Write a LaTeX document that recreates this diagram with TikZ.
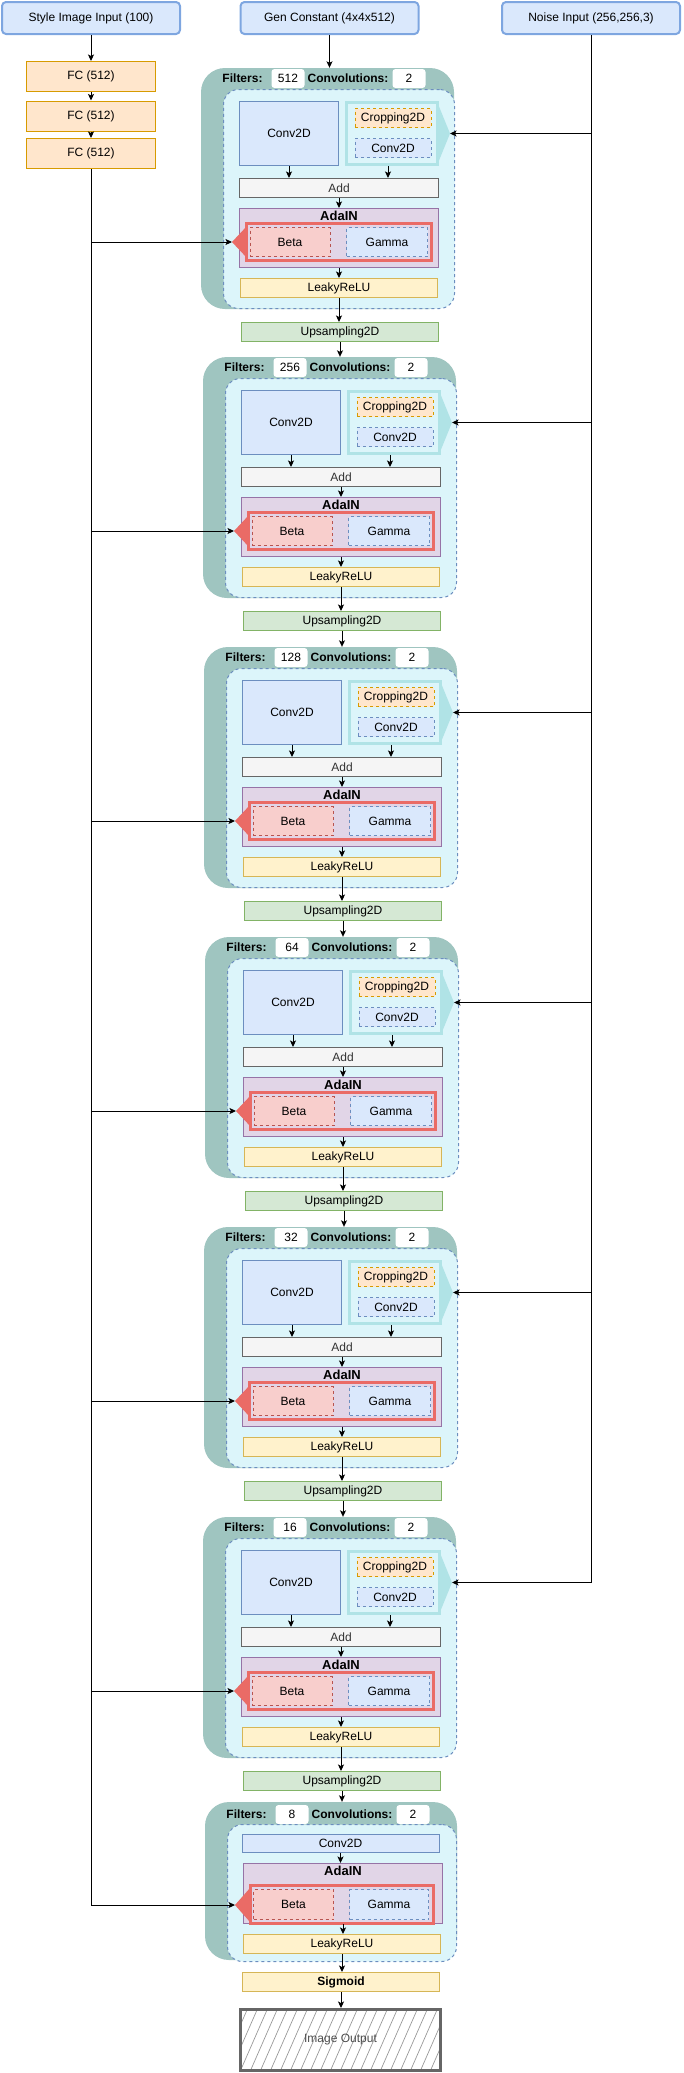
\documentclass[tikz,border=0pt]{standalone}
\usepackage{fontspec}
\setmainfont{Liberation Sans}
\usetikzlibrary{arrows.meta,positioning}
\definecolor{inblue}{HTML}{DAE8FC}
\definecolor{inbluedraw}{HTML}{7EA6E0}
\definecolor{bluedraw}{HTML}{6C8EBF}
\definecolor{fcfill}{HTML}{FFE6CC}
\definecolor{fcdraw}{HTML}{D79B00}
\definecolor{blkteal}{HTML}{9FC5C0}
\definecolor{blkin}{HTML}{DCF5FA}
\definecolor{cropedge}{HTML}{B0E3E6}
\definecolor{addfill}{HTML}{F5F5F5}
\definecolor{adafill}{HTML}{E1D5E7}
\definecolor{adadraw}{HTML}{9673A6}
\definecolor{redgrp}{HTML}{EA6B66}
\definecolor{betafill}{HTML}{F8CECC}
\definecolor{betadraw}{HTML}{B85450}
\definecolor{relufill}{HTML}{FFF2CC}
\definecolor{reludraw}{HTML}{D6B656}
\definecolor{upfill}{HTML}{D5E8D4}
\definecolor{updraw}{HTML}{82B366}
\tikzset{every node/.style={font=\fontsize{12}{14}\selectfont, inner sep=0pt},
  dsh/.style={dash pattern=on 3pt off 3pt},
  box/.style={draw, line width=1pt},
  inputbox/.style={box, draw=inbluedraw, fill=inblue, line width=2pt, rounded corners=4pt, minimum width=178pt, minimum height=32pt},
  fcbox/.style={box, draw=fcdraw, fill=fcfill, minimum width=129pt, minimum height=30pt},
  convbox/.style={box, draw=bluedraw, fill=inblue},
  cropbox/.style={box, dsh, draw=fcdraw, fill=fcfill, minimum width=76pt, minimum height=19pt},
  addbox/.style={box, draw=black!60, fill=addfill, text=black!80, minimum width=199pt, minimum height=19pt},
  adabox/.style={box, draw=adadraw, fill=adafill},
  redbox/.style={draw=redgrp, line width=3pt},
  betabox/.style={box, dsh, draw=betadraw, fill=betafill},
  gammabox/.style={box, dsh, draw=bluedraw, fill=inblue},
  relubox/.style={box, draw=reludraw, fill=relufill, minimum height=19pt},
  upbox/.style={box, draw=updraw, fill=upfill, minimum width=197pt, minimum height=19pt},
  outerblk/.style={fill=blkteal, rounded corners=24pt},
  innerblk/.style={box, dsh, draw=bluedraw, fill=blkin, rounded corners=15pt},
  valbox/.style={fill=white, rounded corners=3pt, minimum width=33pt, minimum height=19pt},
  hd/.style={font=\fontsize{12}{14}\selectfont\bfseries},
  adahd/.style={font=\fontsize{13}{15}\selectfont\bfseries},
  outbox/.style={draw=black!60, line width=3pt, minimum width=200pt, minimum height=61pt, text=black!70,
    path picture={\foreach \k in {-4,...,21} \draw[black!40, line width=0.7pt] ([xshift=\k*10pt]path picture bounding box.south west) -- ++(28,-64);}},
  flow/.style={-{Stealth[length=6.5pt,width=6pt,inset=1.5pt]}, line width=1pt}}

\begin{document}
\begin{tikzpicture}[x=1pt,y=-1pt]
  \useasboundingbox (0,0) rectangle (683,2073);
  % inputs and mapping net
  \node[inputbox] (style) at (91,18) {Style Image Input (100)};
  \node[inputbox] (gen) at (329.5,18) {Gen Constant (4x4x512)};
  \node[inputbox] (noise) at (591,18) {Noise Input (256,256,3)};
  \node[fcbox] (fc1) at (91,76.5) {FC (512)};
  \node[fcbox] (fc2) at (91,116) {FC (512)};
  \node[fcbox] (fc3) at (91,153.5) {FC (512)};
  \draw[flow] (style) -- (fc1);
  \draw[flow] (fc1) -- (fc2);
  \draw[flow] (fc2) -- (fc3);
  % synthesis blocks
  \foreach \T/\f/\d [count=\i] in {68/512/0,357/256/2,647/128/3,937/64/4,1227/32/3,1517/16/2}{
    \node[outerblk, minimum width=253pt, minimum height=241pt] (blk\i) at (327.5+\d,\T+120.5) {};
    \node[hd] (filt\i) at (242.5+\d,\T+10.5) {Filters:};
    \node[valbox] (fval\i) at (288+\d,\T+10.5) {\f};
    \node[hd] (cnv\i) at (348+\d,\T+10.5) {Convolutions:};
    \node[valbox] (cval\i) at (409+\d,\T+10.5) {2};
    \node[innerblk, minimum width=231pt, minimum height=219pt] (inner\i) at (339+\d,\T+131) {};
    \node[convbox, minimum width=99pt, minimum height=64pt] (conv\i) at (289+\d,\T+65.5) {Conv2D};
    \node[draw=cropedge, line width=3pt, fill=blkin, minimum width=91pt, minimum height=62pt] (grp\i) at (392+\d,\T+65.5) {};
    \fill[cropedge] (438+\d,\T+36) -- (450+\d,\T+65.5) -- (438+\d,\T+95) -- cycle;
    \coordinate (nz\i) at (450+\d,\T+65.5);
    \node[cropbox] (crop\i) at (393+\d,\T+50) {Cropping2D};
    \node[convbox, dsh, minimum width=76pt, minimum height=19pt] (sconv\i) at (393+\d,\T+80) {Conv2D};
    \node[addbox] (add\i) at (339+\d,\T+120) {Add};
    \node[adabox, minimum width=199pt, minimum height=59pt] (ada\i) at (339+\d,\T+170) {};
    \node[adahd, below=3pt of ada\i.north] (adal\i) {AdaIN};
    \node[redbox, minimum width=185pt, minimum height=37pt] (rgrp\i) at (339+\d,\T+174) {};
    \fill[redgrp] (247+\d,\T+158) -- (232+\d,\T+174) -- (247+\d,\T+190) -- cycle;
    \coordinate (st\i) at (232+\d,\T+174);
    \node[betabox, minimum width=80pt, minimum height=29pt] (beta\i) at (290+\d,\T+174) {Beta};
    \node[gammabox, minimum width=81pt, minimum height=29pt] (gam\i) at (387+\d,\T+174) {Gamma};
    \node[relubox, minimum width=197pt] (relu\i) at (339+\d,\T+220) {LeakyReLU};
    \node[upbox] (up\i) at (340+\d,\T+264) {Upsampling2D};
    \draw[flow] (conv\i.south) -- (conv\i.south |- add\i.north);
    \draw[flow] ([xshift=-4pt]grp\i.south) -- ([xshift=-4pt]grp\i.south |- add\i.north);
    \draw[flow] (add\i.south) -- (ada\i.north);
    \draw[flow] (ada\i.south) -- (relu\i.north);
    \draw[flow] (relu\i.south) -- (relu\i.south |- up\i.north);
  }
  % last block
  \node[outerblk, minimum width=252pt, minimum height=158pt] (blk7) at (331,1881) {};
  \node[hd] (filt7) at (246.5,1814.5) {Filters:};
  \node[valbox] (fval7) at (292,1814.5) {8};
  \node[hd] (cnv7) at (352,1814.5) {Convolutions:};
  \node[valbox] (cval7) at (413,1814.5) {2};
  \node[innerblk, minimum width=229pt, minimum height=137pt] (inner7) at (342,1893) {};
  \node[convbox, minimum width=197pt, minimum height=18pt] (conv7) at (340.5,1843) {Conv2D};
  \node[adabox, minimum width=199pt, minimum height=60pt] (ada7) at (343,1893.5) {};
  \node[adahd, below=3pt of ada7.north] (adal7) {AdaIN};
  \node[redbox, minimum width=183pt, minimum height=38pt] (rgrp7) at (342,1904.5) {};
  \fill[redgrp] (250,1888) -- (235,1905) -- (250,1922) -- cycle;
  \coordinate (st7) at (235,1905);
  \node[betabox, minimum width=80pt, minimum height=30pt] (beta7) at (293.5,1904.5) {Beta};
  \node[gammabox, minimum width=79pt, minimum height=30pt] (gam7) at (389,1904.5) {Gamma};
  \node[relubox, minimum width=197pt] (relu7) at (342,1944) {LeakyReLU};
  \node[relubox, hd, minimum width=197pt] (sig) at (341,1982) {Sigmoid};
  \node[outbox] (out) at (340.5,2040) {Image Output};
  \draw[flow] (conv7.south) -- (conv7.south |- ada7.north);
  \draw[flow] (ada7.south) -- (ada7.south |- relu7.north);
  \draw[flow] (relu7.south) -- (relu7.south |- sig.north);
  \draw[flow] (sig.south) -- (sig.south |- out.north);
  % block to block
  \draw[flow] (gen.south) -- (gen.south |- blk1.north);
  \foreach \i [evaluate=\i as \j using int(\i+1)] in {1,...,6}
    \draw[flow] (up\i.south) -- (up\i.south |- blk\j.north);
  % style and noise feeds
  \draw[flow] (fc3.south) |- (st7);
  \foreach \i in {1,...,6} \draw[flow] (fc3.south |- st\i) -- (st\i);
  \draw[flow] (noise.south) |- (nz6);
  \foreach \i in {1,...,5} \draw[flow] (noise.south |- nz\i) -- (nz\i);
\end{tikzpicture}
\end{document}
